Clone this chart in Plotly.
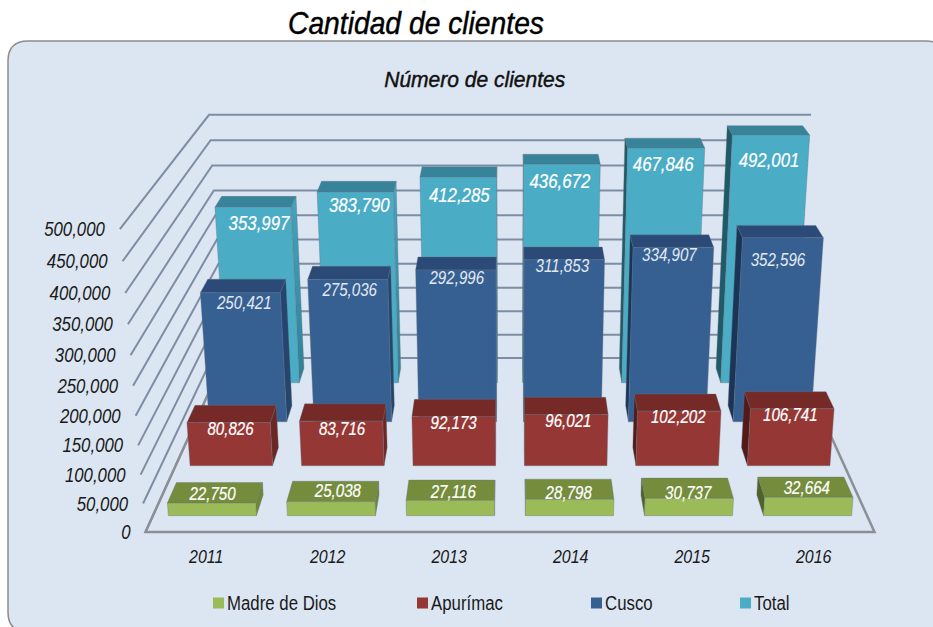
import plotly.graph_objects as go

# ---- data ----
years = ["2011", "2012", "2013", "2014", "2015", "2016"]
madre_de_dios = [22750, 25038, 27116, 28798, 30737, 32664]
apurimac = [80826, 83716, 92173, 96021, 102202, 106741]
cusco = [250421, 275036, 292996, 311853, 334907, 352596]
total = [353997, 383790, 412285, 436672, 467846, 492001]
tick_values = [0, 50000, 100000, 150000, 200000, 250000, 300000, 350000, 400000, 450000, 500000]
series_names = ["Madre de Dios", "Apurímac", "Cusco", "Total"]
title_text = "Cantidad de clientes"
subtitle_text = "Número de clientes"

# ---- styling ----
W, H = 933, 627
FONT = "Liberation Sans, Arial, sans-serif"
PANEL = "#dce6f2"
GRID = "#7d8da3"
FLOOR = "#8b9096"
TEXT_DY = 2
# front, top, right side, left side
FACES = [
    ("#9bbb59", "#748c3c", "#6f8738", "#4f6228"),
    ("#953735", "#752a27", "#6b2724", "#521a18"),
    ("#376092", "#2b4a78", "#25446e", "#1b3557"),
    ("#4bacc6", "#37839a", "#35899f", "#1f5a69"),
]
LABEL_COLORS = ["#ffffff", "#ffffff", "#e3e9f1", "#ffffff"]
LABEL_SIZES = [18, 18, 18, 20]
# small hand placement of the value labels relative to the bar's front top edge
LABEL_NUDGE = [
    [(1, -9), (7, -11), (3, -9), (-1, -7), (-1, -6), (-2, -10)],
    [(2, 6), (1, 7), (0, 6), (2, 6), (-1, 5), (-2, 6)],
    [(4, 10), (2, 10), (1, 8), (-2, 6), (-4, 7), (-5, 22)],
    [(6, 16), (4, 13), (1, 18), (-2, 17), (-3, 16), (-2, 25)],
]

# ---- perspective of the 3-D box: X across, Y value share, Z depth (each 0..1) ----
AXIS_MAX = tick_values[-1]
CENTER_X, FRONT_WIDTH, FLOOR_Y = 510.0, 729.0, 532.0
RISE, SINK = 318.0, 75.0
W_Y, W_Z = -0.0657, 0.2767


def project(x, y, z):
    w = 1 + W_Y * y + W_Z * z
    return CENTER_X + (x - 0.5) * FRONT_WIDTH / w, (FLOOR_Y - RISE * y - SINK * z) / w


def path(points, closed=False):
    xs, ys = [], []
    for px, py, pz in points:
        a, b = project(px, py, pz)
        xs.append(a)
        ys.append(b)
    if closed:
        xs.append(xs[0])
        ys.append(ys[0])
    xs.append(None)
    ys.append(None)
    return xs, ys


fig = go.Figure()

# grid: left wall and back wall
gx, gy = [], []
for t in tick_values:
    s = t / AXIS_MAX
    a, b = path([(0, s, 0), (0, s, 1), (1, s, 1)])
    gx += a
    gy += b
fig.add_trace(go.Scatter(x=gx, y=gy, mode="lines", line=dict(color=GRID, width=2), hoverinfo="skip"))

# floor edges
a, b = path([(0, 0, 1), (0, 0, 0), (1, 0, 0), (1, 0, 1)])
fig.add_trace(go.Scatter(x=a, y=b, mode="lines", line=dict(color=FLOOR, width=2.5), hoverinfo="skip"))

# bars, back row first
BAR_HALF = 0.0617
ROW_START, ROW_STEP, ROW_DEPTH = 0.075, 0.25, 0.10
rows = [madre_de_dios, apurimac, cusco, total]
edge = dict(color="rgba(105,115,125,0.45)", width=0.8)
for k in range(3, -1, -1):
    zf = ROW_START + k * ROW_STEP
    zb = zf + ROW_DEPTH
    side_x, side_y, sidel_x, sidel_y, top_x, top_y, front_x, front_y = [], [], [], [], [], [], [], []
    for i, v in enumerate(rows[k]):
        c = (i + 0.5) / len(years)
        s = v / AXIS_MAX
        l, r = c - BAR_HALF, c + BAR_HALF
        if c < 0.5:
            a, b = path([(r, 0, zf), (r, 0, zb), (r, s, zb), (r, s, zf)], True)
            side_x += a
            side_y += b
        else:
            a, b = path([(l, 0, zf), (l, 0, zb), (l, s, zb), (l, s, zf)], True)
            sidel_x += a
            sidel_y += b
        a, b = path([(l, s, zf), (l, s, zb), (r, s, zb), (r, s, zf)], True)
        top_x += a
        top_y += b
        a, b = path([(l, 0, zf), (r, 0, zf), (r, s, zf), (l, s, zf)], True)
        front_x += a
        front_y += b
    front, top, right, left = FACES[k]
    for xs, ys, col in [(side_x, side_y, right), (sidel_x, sidel_y, left), (top_x, top_y, top), (front_x, front_y, front)]:
        extra = {}
        if k == 3 and col == right:
            # the back row's right sides brighten towards the floor
            extra["fillgradient"] = dict(type="vertical", colorscale=[[0, "#2f7f96"], [1, "#48aac4"]])
        fig.add_trace(go.Scatter(x=xs, y=ys, mode="lines", fill="toself", fillcolor=col,
                                 line=edge, hoverinfo="skip", **extra))

# value labels
for k in range(4):
    zf = ROW_START + k * ROW_STEP
    xs, ys, txt = [], [], []
    for i, v in enumerate(rows[k]):
        a, b = project((i + 0.5) / len(years), v / AXIS_MAX, zf)
        xs.append(a + LABEL_NUDGE[k][i][0])
        ys.append(b + LABEL_NUDGE[k][i][1] + TEXT_DY)
        txt.append(f"{v:,}")
    fig.add_trace(go.Scatter(x=xs, y=ys, text=txt, mode="text", hoverinfo="skip",
                             textfont=dict(family=FONT, size=LABEL_SIZES[k], color=LABEL_COLORS[k], style="italic")))

# value axis labels
tx, ty, tt = [], [], []
for t in tick_values:
    a, b = project(0, t / AXIS_MAX, 0)
    tx.append(a - 15)
    ty.append(b + TEXT_DY)
    tt.append(f"{t:,}")
fig.add_trace(go.Scatter(x=tx, y=ty, text=tt, mode="text", textposition="middle left", hoverinfo="skip",
                         textfont=dict(family=FONT, size=20, color="#1a1a1a", style="italic")))

# year labels
yx = [project((i + 0.5) / len(years), 0, 0)[0] for i in range(len(years))]
fig.add_trace(go.Scatter(x=yx, y=[FLOOR_Y + 24 + TEXT_DY] * len(years), text=years,
                         mode="text", hoverinfo="skip",
                         textfont=dict(family=FONT, size=19, color="#1a1a1a", style="italic")))

# legend
legend_x = [218.5, 422.5, 596.5, 745.5]
for k, name in enumerate(series_names):
    fig.add_trace(go.Scatter(x=[legend_x[k]], y=[603], mode="markers", hoverinfo="skip",
                             marker=dict(symbol="square", size=11, color=FACES[k][0])))
    fig.add_trace(go.Scatter(x=[legend_x[k] + 8.5], y=[603 + TEXT_DY], mode="text", text=[name],
                             textposition="middle right", hoverinfo="skip",
                             textfont=dict(family=FONT, size=20, color="#1a1a1a")))

fig.add_shape(type="path", layer="below", xref="x", yref="y",
              path="M 8 61 Q 8 41 28 41 L 926 41 Q 946 41 946 61 L 946 632 L 28 632 Q 8 632 8 612 Z",
              fillcolor=PANEL, line=dict(color="#8c8c8c", width=1.5))

fig.add_annotation(x=416, y=23, xref="x", yref="y", text=title_text, showarrow=False,
                   font=dict(family=FONT, size=32, color="#000000", style="italic"))
fig.add_annotation(x=474.5, y=79, xref="x", yref="y", text=subtitle_text, showarrow=False,
                   font=dict(family=FONT, size=22, color="#111111", style="italic"))

fig.update_layout(
    width=W, height=H, margin=dict(l=0, r=0, t=0, b=0),
    paper_bgcolor="#ffffff", plot_bgcolor="rgba(0,0,0,0)", showlegend=False,
    xaxis=dict(range=[0, W], visible=False, fixedrange=True),
    yaxis=dict(range=[H, 0], visible=False, fixedrange=True),
)
# the reference type is a narrow face: condense the installed one, keeping real text
condense = """
document.body.style.margin='0';document.body.style.overflow='hidden';
var widths = {'Cantidad de clientes': 256, 'N\\u00famero de clientes': 181};
document.querySelectorAll('.main-svg text').forEach(function(el){
  var n = el.getComputedTextLength();
  if(n>0){
    var t = widths[el.textContent] || n*0.84;
    el.setAttribute('textLength', t);el.setAttribute('lengthAdjust','spacingAndGlyphs');
    if(widths[el.textContent]){el.style.stroke=el.style.fill;el.style.strokeWidth='0.45px';}
    else if(el.style.fill.indexOf('255')>=0){el.style.stroke=el.style.fill;el.style.strokeWidth='0.2px';}
  }
});
"""
fig.write_html("out.html", config={"displayModeBar": False}, post_script=condense)
